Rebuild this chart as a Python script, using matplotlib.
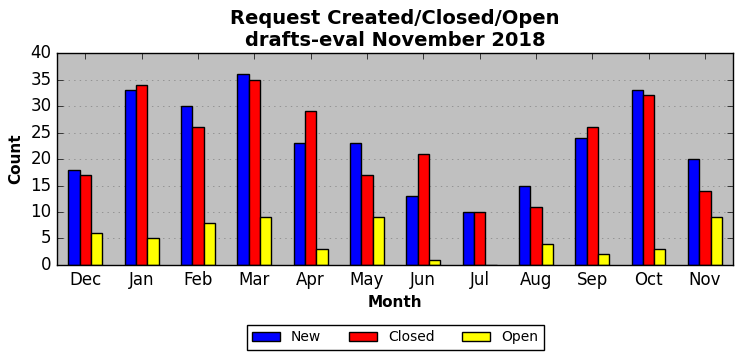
import numpy as np
import matplotlib
matplotlib.use("Agg")
import matplotlib.pyplot as plt

months = ["Dec", "Jan", "Feb", "Mar", "Apr", "May", "Jun", "Jul", "Aug", "Sep", "Oct", "Nov"]
new = [18, 33, 30, 36, 23, 23, 13, 10, 15, 24, 33, 20]
closed = [17, 34, 26, 35, 29, 17, 21, 10, 11, 26, 32, 14]
open_ = [6, 5, 8, 9, 3, 9, 1, 0, 4, 2, 3, 9]

plt.style.use("classic")
fig = plt.figure(figsize=(7.42, 3.61), dpi=100, facecolor="white")
ax = fig.add_axes([0.077, 0.266, 0.911, 0.587])
ax.set_facecolor("#c0c0c0")

x = np.arange(len(months))
w = 0.2
ax.bar(x - w, new, w, color="blue", edgecolor="black", label="New", align="center")
ax.bar(x, closed, w, color="red", edgecolor="black", label="Closed", align="center")
ax.bar(x + w, open_, w, color="yellow", edgecolor="black", label="Open", align="center")

ax.set_xlim(-0.5, 11.5)
ax.set_ylim(0, 40)
ax.set_xticks(x)
ax.set_xticklabels(months)
ax.set_yticks(range(0, 41, 5))
ax.yaxis.grid(True, linestyle=":", color="gray")
ax.set_axisbelow(True)
ax.tick_params(labelsize=12)

ax.set_xlabel("Month", fontsize=11, fontweight="bold")
ax.set_ylabel("Count", fontsize=11, fontweight="bold")
ax.set_title("Request Created/Closed/Open\ndrafts-eval November 2018", fontsize=14, fontweight="bold")

ax.legend(loc="upper center", bbox_to_anchor=(0.5, -0.25), ncol=3, fontsize=10, frameon=True)

fig.savefig("out.png", dpi=100, facecolor="white")
